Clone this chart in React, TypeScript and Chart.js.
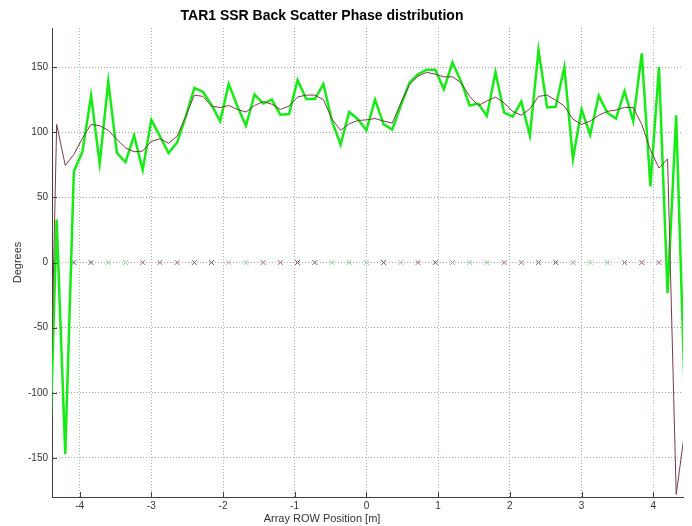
import { useEffect, useRef } from 'react';
import { Chart, registerables } from 'chart.js';

Chart.register(...registerables);

const TITLE = 'TAR1 SSR Back Scatter Phase distribution';
const X_LABEL = 'Array ROW Position [m]';
const Y_LABEL = 'Degrees';

const X_TICKS = [-4, -3, -2, -1, 0, 1, 2, 3, 4];
const Y_TICKS = [-150, -100, -50, 0, 50, 100, 150];
const X_MIN = -4.385;
const X_MAX = 4.415;
const Y_MIN = -180;
const Y_MAX = 180;

// element positions: index k * 0.12 m, k = -37 .. 37
const SAMPLE_STEP = 0.12;
const SAMPLE_FIRST = -37;

// measured phase (green)
const phaseMeasured = [
  -192, 33, -147, 70, 85, 128, 76, 139, 84, 77,
  97.5, 71, 109.5, 97, 84, 92, 112, 134, 131, 121,
  108.5, 137, 120, 105, 129, 122, 125, 113.5, 114, 140,
  125.5, 125.5, 137, 108.5, 90.5, 115.5, 110, 101.5, 125, 106,
  102, 120.5, 138, 144.5, 148, 148, 133, 153.5, 139, 120.5,
  122, 112.5, 146, 115, 112, 123.5, 97.5, 163, 119, 119.5,
  150, 79.5, 117.5, 98, 128, 115, 110.5, 131.5, 108.5, 160.5,
  58.5, 150, -23.5, 113, -103,
];

// smoothed phase (maroon)
const phaseSmoothed = [
  -200, 106, 74.5, 83, 95.5, 106, 105, 101.5, 94.5, 88,
  85, 85.5, 93, 95, 91.5, 97, 112, 128.5, 127.5, 120,
  119, 120.5, 117.5, 115.5, 120.5, 123.5, 121.5, 117.5, 120, 127,
  128.5, 128.5, 125, 110, 101.5, 106.5, 109, 109.5, 110.5, 108.5,
  107, 122.5, 136.5, 143, 146, 144.5, 142.5, 142.5, 138, 127.5,
  120.5, 124, 127, 122.5, 116, 113, 118, 127.5, 128.5, 124.5,
  120, 110, 106, 108.5, 113, 116, 117, 119, 119, 106,
  86.5, 72.5, 79.5, -178, -129,
];

// reference markers along 0 deg, every 0.24 m, j = -17 .. 17
const MARKER_STEP = 0.24;
const MARKER_FIRST = -17;
const markerValues = [
  0, 0, 0, 0, 0, 0, 0, 0, 0, 0,
  0, 0, 0, 0, 0, 0, 0, 0, 0, 0,
  0, 0, 0, 0, 0, 0, 0, 0, 0, 0,
  0, 0, 0, 0, 0,
];
const markerColors = [
  '#606060', '#606060', '#88cc88', '#88cc88', '#986888', '#986888', '#986888', '#606060', '#606060', '#c8a0c0',
  '#88cc88', '#986888', '#986888', '#704060', '#606060', '#88cc88', '#88cc88', '#88cc88', '#704060', '#c8a0c0',
  '#986888', '#606060', '#90a890', '#88cc88', '#88cc88', '#986888', '#986888', '#807080', '#606060', '#90a890',
  '#88cc88', '#88cc88', '#986888', '#a04860', '#986888',
];

const X_GRID_COLORS: Record<string, string> = {
  '-4': '#8cc88c', '-3': '#a8a0a8', '-2': '#a0b0a0', '-1': '#b0a0b0', '0': '#a8a8a8',
  '1': '#a0c0a0', '2': '#a8a0a8', '3': '#a0a8a0', '4': '#98c898',
};
const Y_GRID_COLORS: Record<string, string> = {
  '150': '#b89ab8', '100': '#b090b0', '50': '#a090a0', '0': '#a0c0a0',
  '-50': '#9a9a9a', '-100': '#a89aa8', '-150': '#90c090',
};

const FONT = '"Liberation Sans", Arial, Helvetica, sans-serif';

const decorPlugin = {
  id: 'decor',
  afterDraw(chart: any) {
    const { ctx, chartArea, scales } = chart;
    ctx.save();
    ctx.strokeStyle = '#404040';
    ctx.lineWidth = 1;
    ctx.beginPath();
    for (const v of Y_TICKS) {
      const y = Math.round(scales.y.getPixelForValue(v)) + 0.5;
      ctx.moveTo(chartArea.left, y);
      ctx.lineTo(chartArea.left + 5, y);
    }
    for (const v of X_TICKS) {
      const x = Math.round(scales.x.getPixelForValue(v)) + 0.5;
      ctx.moveTo(x, chartArea.bottom);
      ctx.lineTo(x, chartArea.bottom - 5);
    }
    ctx.stroke();

    ctx.fillStyle = '#000';
    ctx.textAlign = 'center';
    ctx.textBaseline = 'middle';
    ctx.font = `bold 14px ${FONT}`;
    ctx.fillText(TITLE, 322, 16);

    ctx.fillStyle = '#333';
    ctx.font = `11px ${FONT}`;
    ctx.fillText(X_LABEL, 322, 519);

    ctx.translate(18, (chartArea.top + chartArea.bottom) / 2);
    ctx.rotate(-Math.PI / 2);
    ctx.fillText(Y_LABEL, 0, 0);
    ctx.restore();
  },
};

export default function App() {
  const canvasRef = useRef<HTMLCanvasElement | null>(null);

  useEffect(() => {
    if (!canvasRef.current) return;
    const measured = phaseMeasured.map((v, i) => ({ x: (SAMPLE_FIRST + i) * SAMPLE_STEP, y: v }));
    const smoothed = phaseSmoothed.map((v, i) => ({ x: (SAMPLE_FIRST + i) * SAMPLE_STEP, y: v }));
    const markers = markerValues.map((v, i) => ({ x: (MARKER_FIRST + i) * MARKER_STEP, y: v }));

    const chart = new Chart(canvasRef.current, {
      type: 'line',
      data: {
        datasets: [
          {
            label: 'smoothed',
            data: smoothed,
            borderColor: '#7a3a48',
            borderWidth: 1,
            pointRadius: 0,
            tension: 0,
            clip: 0,
            order: 0,
          },
          {
            label: 'measured',
            data: measured,
            borderColor: '#14ec14',
            borderWidth: 2.5,
            pointRadius: 0,
            tension: 0,
            clip: 0,
            order: 1,
          },
          {
            label: 'reference',
            data: markers,
            borderColor: '#b8a0b8',
            borderWidth: 1,
            borderDash: [1, 2],
            pointStyle: 'crossRot',
            pointRadius: 3.5,
            pointBorderWidth: 1,
            pointBorderColor: markerColors,
            pointBackgroundColor: markerColors,
            tension: 0,
            clip: 0,
            order: 2,
          },
        ],
      },
      options: {
        animation: false,
        responsive: false,
        devicePixelRatio: 1,
        layout: { padding: { left: 0, right: 9, top: 28, bottom: 0 } },
        plugins: {
          legend: { display: false },
          title: { display: false },
          tooltip: { enabled: false },
        },
        scales: {
          x: {
            type: 'linear',
            min: X_MIN,
            max: X_MAX,
            afterBuildTicks: (scale: any) => {
              scale.ticks = X_TICKS.map((v) => ({ value: v }));
            },
            afterFit: (scale: any) => {
              scale.height = 29;
            },
            ticks: {
              font: { family: FONT, size: 10 },
              color: '#333',
              padding: 3,
              maxRotation: 0,
              callback: (v: any) => String(v),
            },
            grid: {
              drawTicks: false,
              lineWidth: 1,
              color: (c: any) => X_GRID_COLORS[String(c.tick?.value)] || '#a8a8a8',
            },
            border: { display: true, color: '#4a3c3c', width: 1, dash: [1, 2] },
          },
          y: {
            type: 'linear',
            min: Y_MIN,
            max: Y_MAX,
            afterBuildTicks: (scale: any) => {
              scale.ticks = Y_TICKS.map((v) => ({ value: v }));
            },
            afterFit: (scale: any) => {
              scale.width = 52;
            },
            ticks: {
              font: { family: FONT, size: 10 },
              color: '#333',
              padding: 4,
              callback: (v: any) => String(v),
            },
            grid: {
              drawTicks: false,
              lineWidth: 1,
              color: (c: any) => Y_GRID_COLORS[String(c.tick?.value)] || '#a8a8a8',
            },
            border: { display: true, color: '#4a3c3c', width: 1, dash: [1, 2] },
          },
        },
      },
      plugins: [decorPlugin],
    });
    return () => chart.destroy();
  }, []);

  return (
    <div style={{ position: 'fixed', left: 0, top: 0, width: 692, height: 526, background: '#fff' }}>
      <canvas ref={canvasRef} width={692} height={526} style={{ display: 'block' }} />
    </div>
  );
}
